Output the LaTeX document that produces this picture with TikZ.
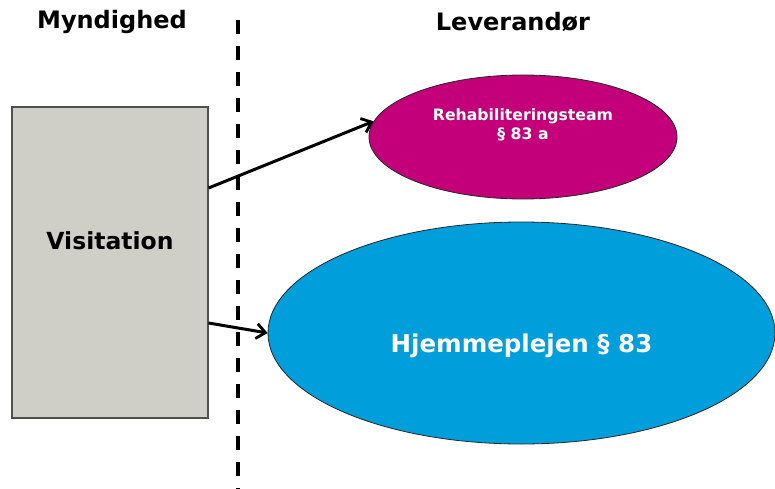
\documentclass[tikz,border=0pt]{standalone}
\usepackage{fontspec}
\setmainfont{DejaVu Sans}
\usetikzlibrary{shapes.geometric,arrows.meta}

\definecolor{boxgray}{HTML}{D0CFC7}
\definecolor{boxedge}{HTML}{505050}
\definecolor{rehab}{HTML}{C3007A}
\definecolor{pleje}{HTML}{009EDB}

\tikzset{
  header/.style={font=\bfseries\fontsize{24}{28}\selectfont, text=black, inner sep=0pt},
  visbox/.style={draw=boxedge, line width=1.2pt, fill=boxgray, minimum width=196pt, minimum height=311pt, inner sep=0pt},
  blob/.style={ellipse, draw=black!85, line width=0.8pt, inner sep=0pt},
  whitetext/.style={text=white, font=\bfseries, align=center, inner sep=0pt},
  divider/.style={line width=3.5pt, dash pattern=on 14pt off 12pt},
  flow/.style={line width=3pt, -{Straight Barb[length=9pt, width=15pt, line width=2.8pt]}}
}

\begin{document}
\begin{tikzpicture}[x=1pt, y=-1pt]
  \useasboundingbox (0,0) rectangle (775,489);

  % column headers
  \node[header] (myn) at (112,22) {Myndighed};
  \node[header] (lev) at (513,22) {Leverandør};

  % dashed boundary between authority and provider
  \coordinate (divtop) at (238,20);
  \coordinate (divbot) at (238,492);
  \draw[divider] (divtop) -- (divbot);

  % authority side
  \node[visbox] (vis) at (110,262.5) {};
  \node[font=\bfseries\fontsize{23.5}{28}\selectfont, inner sep=0pt] (vistxt) at (110,241) {Visitation};

  % provider side
  \node[blob, fill=rehab, minimum width=308pt, minimum height=124pt] (reh) at (523,137) {};
  \node[whitetext, font=\bfseries\fontsize{15.7}{19}\selectfont] (rehtxt) at (523,124.5) {Rehabiliteringsteam\\§ 83 a};

  \node[blob, fill=pleje, minimum width=507pt, minimum height=222pt] (hje) at (521.5,333) {};
  \node[whitetext, font=\bfseries\fontsize{24.5}{28}\selectfont] (hjetxt) at (521.5,346) {Hjemmeplejen § 83};

  % referrals
  \draw[flow] ([yshift=74.5pt]vis.east) -- (reh.174);
  \draw[flow] ([yshift=-60.5pt]vis.east) -- (hje.west);
\end{tikzpicture}
\end{document}
